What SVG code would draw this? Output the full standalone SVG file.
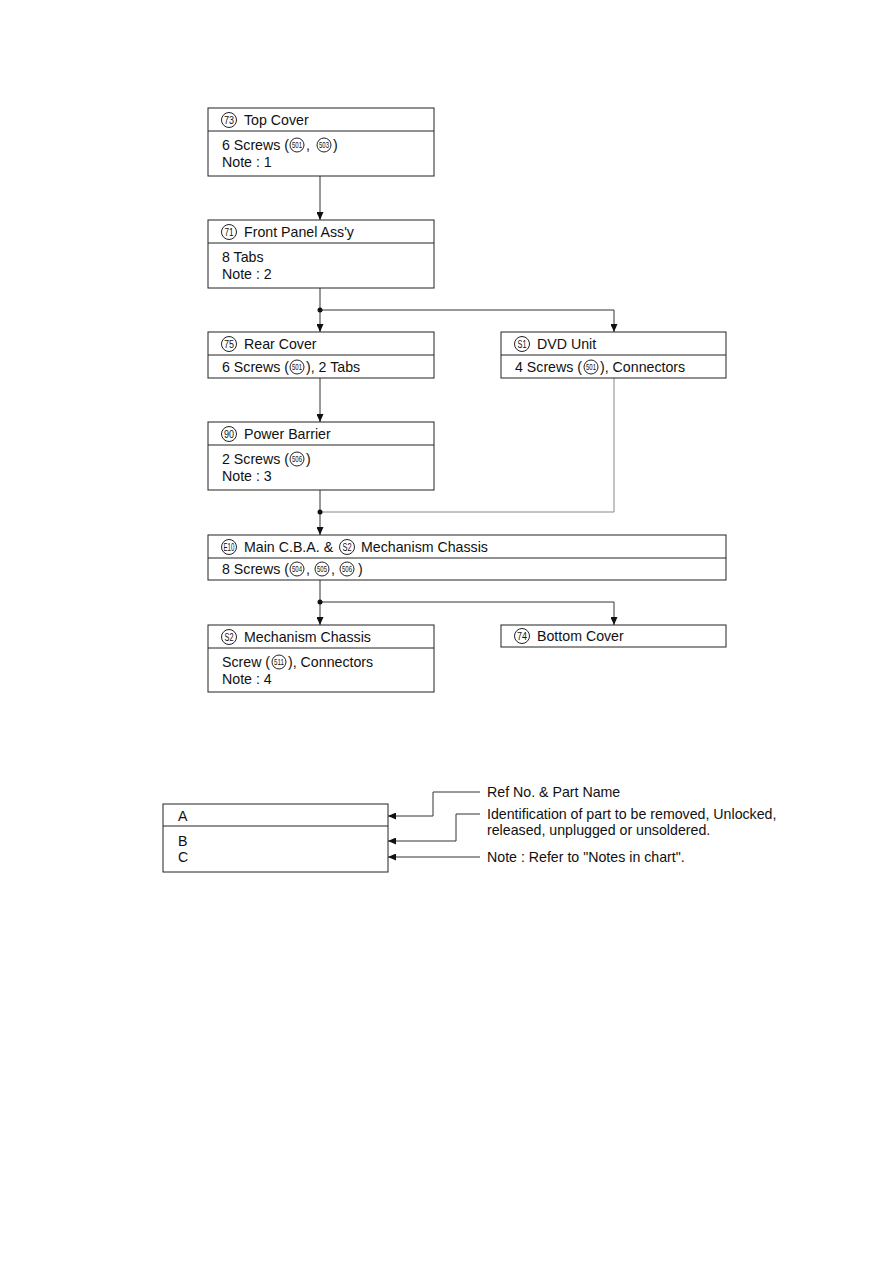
<svg xmlns="http://www.w3.org/2000/svg" width="893" height="1263" viewBox="0 0 893 1263">
<defs>
<style>
.t{font-family:"Liberation Sans",Arial,sans-serif;font-size:14.2px;fill:#111}
.box{fill:#fff;stroke:#222;stroke-width:1}
.div{stroke:#222;stroke-width:1}
.c{fill:none;stroke:#222;stroke-width:1}
.cn{font-family:"Liberation Sans",Arial,sans-serif;font-size:10px;fill:#111;text-anchor:middle}
.sn{font-family:"Liberation Sans",Arial,sans-serif;font-size:9px;fill:#111;text-anchor:middle}
.ln{fill:none;stroke:#333;stroke-width:1}
.ln2{fill:none;stroke:#888;stroke-width:1}
.dot{fill:#111}
</style>
<marker id="ah" viewBox="0 0 8 7" refX="8" refY="3.5" markerWidth="8" markerHeight="7" markerUnits="userSpaceOnUse" orient="auto">
<path d="M0,0 L8,3.5 L0,7 z" fill="#111"/>
</marker>
</defs>
<rect width="893" height="1263" fill="#fff"/>

<g id="connectors">
<line class="ln" x1="320" y1="176" x2="320" y2="220" marker-end="url(#ah)"/>
<line class="ln" x1="320" y1="288" x2="320" y2="332" marker-end="url(#ah)"/>
<path class="ln" d="M320,310 H614 V332" marker-end="url(#ah)"/>
<circle class="dot" cx="320" cy="310" r="2.5"/>
<line class="ln" x1="320" y1="378" x2="320" y2="422" marker-end="url(#ah)"/>
<line class="ln" x1="320" y1="490" x2="320" y2="535" marker-end="url(#ah)"/>
<path class="ln2" d="M614,378 V512 H320"/>
<circle class="dot" cx="320" cy="512" r="2.5"/>
<line class="ln" x1="320" y1="580" x2="320" y2="625" marker-end="url(#ah)"/>
<path class="ln" d="M320,602 H614 V625" marker-end="url(#ah)"/>
<circle class="dot" cx="320" cy="602" r="2.5"/>
<path class="ln" d="M480,792 H433 V816 H388" marker-end="url(#ah)"/>
<path class="ln" d="M480,814 H456 V841 H388" marker-end="url(#ah)"/>
<path class="ln" d="M480,857 H388" marker-end="url(#ah)"/>
</g>

<g id="top-cover">
<rect class="box" x="208" y="108" width="226" height="68"/>
<line class="div" x1="208" y1="131" x2="434" y2="131"/>
<circle class="c" cx="229" cy="120" r="7.5"/><text class="cn" x="229" y="123.5" textLength="10" lengthAdjust="spacingAndGlyphs">73</text>
<text class="t" x="244" y="125">Top Cover</text>
<text class="t" x="222" y="150">6 Screws (</text>
<circle class="c" cx="297" cy="145" r="7"/><text class="sn" x="297" y="148" textLength="10" lengthAdjust="spacingAndGlyphs">501</text>
<text class="t" x="306" y="150">,</text>
<circle class="c" cx="324" cy="145" r="7"/><text class="sn" x="324" y="148" textLength="10" lengthAdjust="spacingAndGlyphs">503</text>
<text class="t" x="333" y="150">)</text>
<text class="t" x="222" y="167">Note : 1</text>
</g>

<g id="front-panel">
<rect class="box" x="208" y="220" width="226" height="68"/>
<line class="div" x1="208" y1="243" x2="434" y2="243"/>
<circle class="c" cx="229" cy="232" r="7.5"/><text class="cn" x="229" y="235.5" textLength="9" lengthAdjust="spacingAndGlyphs">71</text>
<text class="t" x="244" y="237">Front Panel Ass'y</text>
<text class="t" x="222" y="262">8 Tabs</text>
<text class="t" x="222" y="279">Note : 2</text>
</g>

<g id="rear-cover">
<rect class="box" x="208" y="332" width="226" height="46"/>
<line class="div" x1="208" y1="355" x2="434" y2="355"/>
<circle class="c" cx="229" cy="344" r="7.5"/><text class="cn" x="229" y="347.5" textLength="10" lengthAdjust="spacingAndGlyphs">75</text>
<text class="t" x="244" y="349">Rear Cover</text>
<text class="t" x="222" y="372">6 Screws (</text>
<circle class="c" cx="297" cy="367" r="7"/><text class="sn" x="297" y="370" textLength="10" lengthAdjust="spacingAndGlyphs">501</text>
<text class="t" x="306" y="372">), 2 Tabs</text>
</g>

<g id="dvd-unit">
<rect class="box" x="501" y="332" width="225" height="46"/>
<line class="div" x1="501" y1="355" x2="726" y2="355"/>
<circle class="c" cx="522" cy="344" r="7.5"/><text class="cn" x="522" y="347.5" textLength="9" lengthAdjust="spacingAndGlyphs">S1</text>
<text class="t" x="537" y="349">DVD Unit</text>
<text class="t" x="515" y="372">4 Screws (</text>
<circle class="c" cx="591" cy="367" r="7"/><text class="sn" x="591" y="370" textLength="10" lengthAdjust="spacingAndGlyphs">501</text>
<text class="t" x="600" y="372">), Connectors</text>
</g>

<g id="power-barrier">
<rect class="box" x="208" y="422" width="226" height="68"/>
<line class="div" x1="208" y1="445" x2="434" y2="445"/>
<circle class="c" cx="229" cy="434" r="7.5"/><text class="cn" x="229" y="437.5" textLength="10" lengthAdjust="spacingAndGlyphs">90</text>
<text class="t" x="244" y="439">Power Barrier</text>
<text class="t" x="222" y="464">2 Screws (</text>
<circle class="c" cx="297" cy="459" r="7"/><text class="sn" x="297" y="462" textLength="10" lengthAdjust="spacingAndGlyphs">506</text>
<text class="t" x="306" y="464">)</text>
<text class="t" x="222" y="481">Note : 3</text>
</g>

<g id="main-cba">
<rect class="box" x="208" y="535" width="518" height="45"/>
<line class="div" x1="208" y1="558" x2="726" y2="558"/>
<circle class="c" cx="229" cy="547" r="7.5"/><text class="cn" x="229" y="550.5" textLength="11" lengthAdjust="spacingAndGlyphs">E10</text>
<text class="t" x="244" y="552">Main C.B.A. &amp;</text>
<circle class="c" cx="347" cy="547" r="7.5"/><text class="cn" x="347" y="550.5" textLength="9" lengthAdjust="spacingAndGlyphs">S2</text>
<text class="t" x="361" y="552">Mechanism Chassis</text>
<text class="t" x="222" y="574">8 Screws (</text>
<circle class="c" cx="297" cy="569" r="7"/><text class="sn" x="297" y="572" textLength="10" lengthAdjust="spacingAndGlyphs">504</text>
<text class="t" x="306" y="574">,</text>
<circle class="c" cx="322" cy="569" r="7"/><text class="sn" x="322" y="572" textLength="10" lengthAdjust="spacingAndGlyphs">505</text>
<text class="t" x="331" y="574">,</text>
<circle class="c" cx="347" cy="569" r="7"/><text class="sn" x="347" y="572" textLength="10" lengthAdjust="spacingAndGlyphs">506</text>
<text class="t" x="358" y="574">)</text>
</g>

<g id="mechanism-chassis">
<rect class="box" x="208" y="625" width="226" height="67"/>
<line class="div" x1="208" y1="648" x2="434" y2="648"/>
<circle class="c" cx="229" cy="637" r="7.5"/><text class="cn" x="229" y="640.5" textLength="9" lengthAdjust="spacingAndGlyphs">S2</text>
<text class="t" x="244" y="642">Mechanism Chassis</text>
<text class="t" x="222" y="667">Screw (</text>
<circle class="c" cx="279" cy="662" r="7"/><text class="sn" x="279" y="665" textLength="10" lengthAdjust="spacingAndGlyphs">511</text>
<text class="t" x="288" y="667">), Connectors</text>
<text class="t" x="222" y="684">Note : 4</text>
</g>

<g id="bottom-cover">
<rect class="box" x="501" y="625" width="225" height="22"/>
<circle class="c" cx="522" cy="636" r="7.5"/><text class="cn" x="522" y="639.5" textLength="10" lengthAdjust="spacingAndGlyphs">74</text>
<text class="t" x="537" y="641">Bottom Cover</text>
</g>

<g id="legend">
<rect class="box" x="163" y="804" width="225" height="68"/>
<line class="div" x1="163" y1="826" x2="388" y2="826"/>
<text class="t" x="178" y="821">A</text>
<text class="t" x="178" y="846">B</text>
<text class="t" x="178" y="862">C</text>
<text class="t" x="487" y="797">Ref No. &amp; Part Name</text>
<text class="t" x="487" y="819">Identification of part to be removed, Unlocked,</text>
<text class="t" x="487" y="835">released, unplugged or unsoldered.</text>
<text class="t" x="487" y="862">Note : Refer to "Notes in chart".</text>
</g>
</svg>
